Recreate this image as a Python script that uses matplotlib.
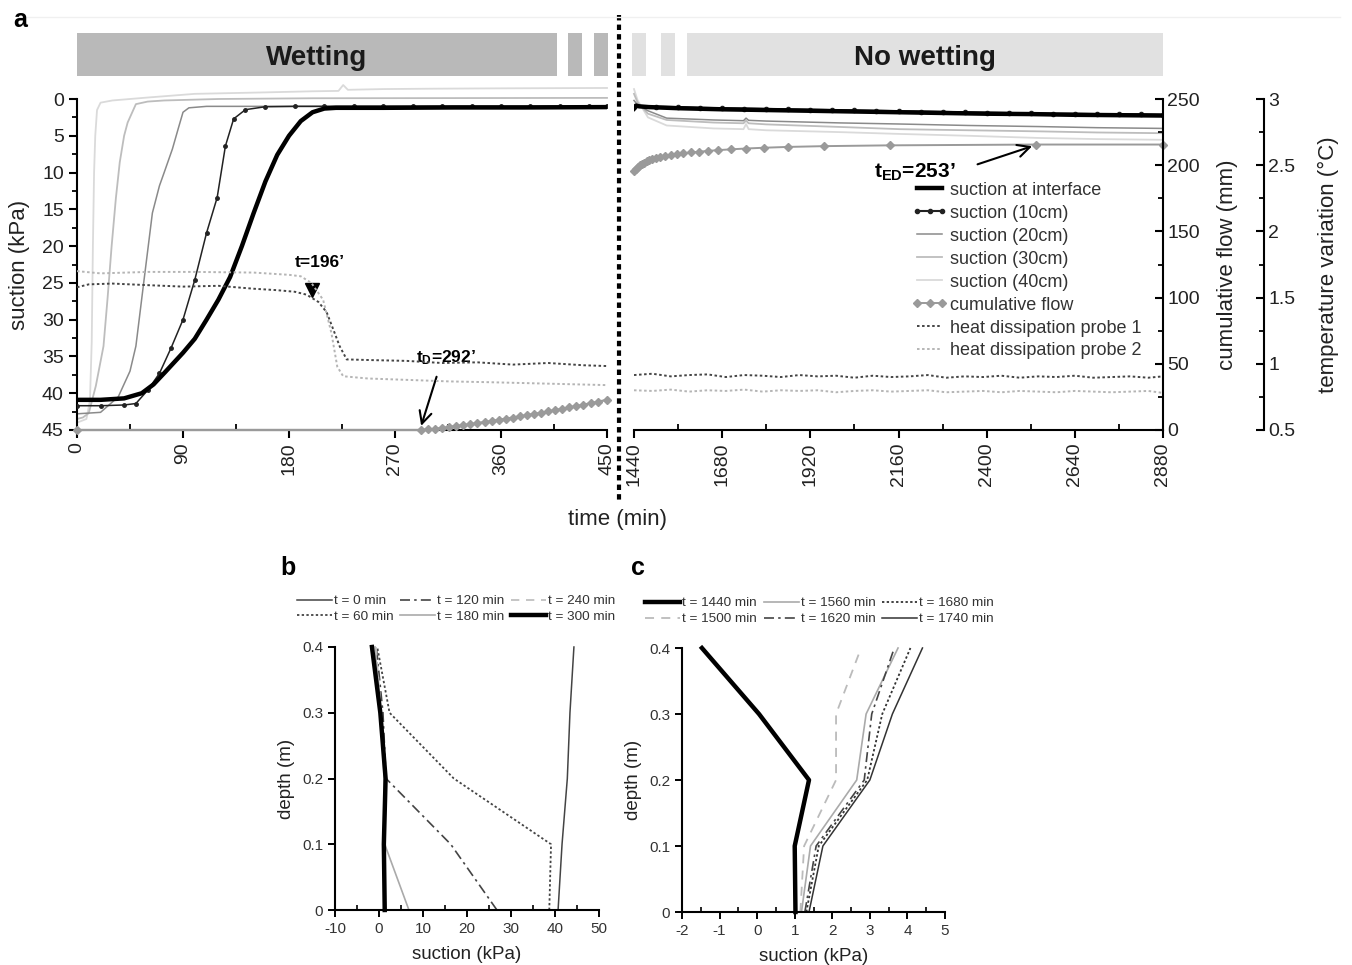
import matplotlib
matplotlib.use('Agg')
import matplotlib.pyplot as plt
from matplotlib import font_manager
from matplotlib.ticker import MultipleLocator
from matplotlib.transforms import blended_transform_factory
from matplotlib.patches import Rectangle
from matplotlib.lines import Line2D

_names = {f.name for f in font_manager.fontManager.ttflist}
NARROW = 'Liberation Sans Narrow' if 'Liberation Sans Narrow' in _names else 'Liberation Sans'

plt.rcParams['font.family'] = ['Liberation Sans', 'DejaVu Sans']
plt.rcParams['axes.unicode_minus'] = False
plt.rcParams['mathtext.fontset'] = 'custom'
plt.rcParams['mathtext.rm'] = NARROW
plt.rcParams['mathtext.bf'] = NARROW + ':bold'
plt.rcParams['mathtext.it'] = NARROW + ':italic'

# ---------------- data: panel a, wetting phase (0-450 min) ----------------
t_int_L = [0, 20, 40, 55, 65, 75, 90, 100, 110, 120, 130, 140, 150, 160, 170, 180, 190, 200, 210, 220, 260, 320, 380, 450]
s_int_L = [40.9, 40.9, 40.7, 40.0, 38.8, 37.1, 34.5, 32.6, 30.0, 27.3, 24.2, 20.0, 15.5, 11.2, 7.6, 5.0, 3.0, 1.8, 1.3, 1.2, 1.2, 1.15, 1.15, 1.1]

t_10_L = [0, 20, 40, 50, 60, 70, 80, 90, 100, 110, 119, 126, 133, 143, 160, 185, 210, 235, 260, 285, 310, 335, 360, 385, 410, 435, 450]
s_10_L = [41.7, 41.7, 41.6, 41.4, 39.6, 37.3, 33.8, 30.0, 24.6, 18.2, 13.4, 6.4, 2.7, 1.45, 1.05, 1.0, 1.0, 1.0, 1.0, 1.0, 1.0, 1.0, 1.0, 1.0, 1.0, 1.0, 1.0]

t_20_L = [0, 20, 35, 45, 50, 57, 64, 70, 74, 81, 86, 90, 95, 110, 200, 300, 450]
s_20_L = [42.8, 42.6, 40.5, 37.0, 33.6, 24.5, 15.5, 11.8, 10.0, 6.8, 4.0, 1.8, 1.2, 1.0, 1.0, 1.0, 1.0]

t_30_L = [0, 5, 10, 16, 22.5, 26, 29.4, 33, 36.3, 40, 43, 50, 60, 74, 120, 200, 300, 450]
s_30_L = [43.5, 43.3, 42.7, 39.0, 33.6, 27.0, 20.0, 13.5, 8.6, 5.0, 3.2, 0.7, 0.35, 0.2, 0.0, -0.1, -0.12, -0.15]

t_40_L = [0, 8, 11, 12.5, 13.5, 14.5, 15.5, 17, 20, 30, 60, 100, 160, 200, 222, 226, 230, 260, 300, 360, 450]
s_40_L = [44.0, 43.5, 41.0, 33.0, 20.0, 10.0, 5.0, 1.5, 0.5, 0.2, -0.2, -0.7, -0.9, -1.05, -1.1, -1.9, -1.25, -1.35, -1.4, -1.45, -1.5]

t_flow_L = [0, 292, 298, 304, 310, 316, 322, 328, 334, 340, 346, 352, 358, 364, 370, 376, 382, 388, 394, 400, 406, 412, 418, 424, 430, 436, 442, 450]
flow_L = [0, 0, 0.4, 0.9, 1.5, 2.2, 3.0, 3.7, 4.4, 5.2, 6.0, 6.8, 7.6, 8.5, 9.4, 10.3, 11.2, 12.1, 13.0, 14.0, 15.0, 16.0, 17.0, 18.0, 19.1, 20.2, 21.3, 22.8]

t_p1_L = [0, 10, 30, 60, 90, 120, 150, 170, 185, 195, 205, 212, 218, 223, 229, 250, 280, 310, 340, 370, 400, 430, 450]
p1_L = [1.578, 1.600, 1.606, 1.594, 1.583, 1.589, 1.567, 1.556, 1.544, 1.522, 1.467, 1.389, 1.250, 1.133, 1.033, 1.028, 1.022, 1.006, 1.011, 0.994, 1.006, 0.989, 0.983]

t_p2_L = [0, 20, 60, 100, 150, 180, 190, 199, 209, 216, 221, 226, 247, 282, 316, 350, 400, 450]
p2_L = [1.700, 1.683, 1.694, 1.694, 1.689, 1.672, 1.661, 1.611, 1.483, 1.233, 0.978, 0.906, 0.889, 0.878, 0.867, 0.861, 0.850, 0.839]

# ---------------- data: panel a, no-wetting phase (1440-2880 min) ----------------
t_int_R = [1440, 1445, 1455, 1480, 1560, 1680, 1800, 1920, 2040, 2160, 2280, 2400, 2520, 2640, 2760, 2880]
s_int_R = [1.3, 0.9, 1.0, 1.1, 1.25, 1.4, 1.5, 1.6, 1.7, 1.8, 1.9, 2.0, 2.05, 2.15, 2.2, 2.25]

t_10_R = [1440, 1500, 1560, 1620, 1680, 1740, 1800, 1860, 1920, 1980, 2040, 2100, 2160, 2220, 2280, 2340, 2400, 2460, 2520, 2580, 2640, 2700, 2760, 2820, 2880]
s_10_R = [1.1, 1.05, 1.1, 1.2, 1.25, 1.3, 1.35, 1.4, 1.45, 1.5, 1.55, 1.6, 1.65, 1.7, 1.75, 1.8, 1.85, 1.9, 1.95, 2.0, 2.0, 2.05, 2.1, 2.1, 2.15]

t_20_R = [1440, 1450, 1478, 1529, 1656, 1738, 1745, 1752, 1800, 2000, 2163, 2350, 2544, 2700, 2880]
s_20_R = [0.2, 0.8, 1.6, 2.6, 2.85, 2.95, 2.6, 2.9, 3.0, 3.25, 3.4, 3.6, 3.75, 3.9, 4.0]

t_30_R = [1440, 1450, 1478, 1529, 1656, 1738, 1745, 1752, 1800, 2000, 2163, 2350, 2544, 2700, 2880]
s_30_R = [-0.7, 0.5, 2.0, 2.85, 3.2, 3.3, 2.95, 3.3, 3.45, 3.8, 4.1, 4.25, 4.4, 4.55, 4.65]

t_40_R = [1440, 1450, 1478, 1529, 1656, 1738, 1745, 1752, 1800, 2000, 2163, 2350, 2544, 2700, 2880]
s_40_R = [-1.35, 0.2, 2.5, 3.6, 4.0, 4.1, 3.4, 4.1, 4.25, 4.5, 4.75, 5.0, 5.3, 5.45, 5.55]

t_flow_R = [1440, 1445, 1450, 1456, 1462, 1468, 1475, 1482, 1490, 1500, 1512, 1525, 1540, 1556, 1574, 1594, 1617, 1642, 1670, 1705, 1745, 1795, 1858, 1958, 2138, 2535, 2880]
flow_R = [195.5, 197, 198.5, 200, 201, 202, 203, 204, 204.8, 205.5, 206.3, 207, 207.6, 208.3, 209, 209.6, 210.2, 210.8, 211.4, 212, 212.6, 213.2, 213.8, 214.4, 215, 215.6, 215.6]

t_p_R = [1440, 1490, 1540, 1590, 1640, 1690, 1740, 1790, 1840, 1890, 1940, 1990, 2040, 2090, 2140, 2190, 2240, 2290, 2340, 2390, 2440, 2490, 2540, 2590, 2640, 2690, 2740, 2790, 2840, 2880]
p1_R = [0.915, 0.925, 0.905, 0.915, 0.92, 0.9, 0.915, 0.91, 0.9, 0.915, 0.905, 0.91, 0.895, 0.91, 0.9, 0.905, 0.915, 0.895, 0.905, 0.9, 0.91, 0.895, 0.905, 0.9, 0.91, 0.895, 0.9, 0.905, 0.895, 0.905]
p2_R = [0.8, 0.795, 0.805, 0.79, 0.8, 0.795, 0.805, 0.79, 0.8, 0.795, 0.8, 0.785, 0.795, 0.8, 0.79, 0.795, 0.8, 0.785, 0.79, 0.795, 0.785, 0.795, 0.79, 0.785, 0.795, 0.79, 0.785, 0.79, 0.795, 0.78]

# ---------------- data: panels b and c (profiles) ----------------
depth = [0, 0.1, 0.2, 0.3, 0.4]
b_labels = ['t = 0 min', 't = 60 min', 't = 120 min', 't = 180 min', 't = 240 min', 't = 300 min']
b_t0 = [40.7, 41.6, 42.8, 43.4, 44.3]
b_t60 = [38.7, 39.1, 17.0, 2.4, -0.4]
b_t120 = [26.8, 16.3, 1.6, 0.9, -0.6]
b_t180 = [6.8, 1.3, 1.2, 0.4, -0.9]
b_t240 = [1.5, 1.1, 1.4, 0.5, -0.7]
b_t300 = [1.3, 1.1, 1.5, 0.3, -1.6]

c_labels = ['t = 1440 min', 't = 1500 min', 't = 1560 min', 't = 1620 min', 't = 1680 min', 't = 1740 min']
c_t1440 = [1.02, 1.0, 1.38, 0.05, -1.47]
c_t1500 = [1.15, 1.25, 2.1, 2.1, 2.7]
c_t1560 = [1.18, 1.42, 2.65, 2.9, 3.75]
c_t1620 = [1.27, 1.57, 2.85, 3.05, 3.65]
c_t1680 = [1.31, 1.64, 2.93, 3.33, 4.08]
c_t1740 = [1.38, 1.75, 3.0, 3.6, 4.4]
depth_1500 = [0, 0.1, 0.2, 0.3, 0.39]

legend_a = ['suction at interface', 'suction (10cm)', 'suction (20cm)', 'suction (30cm)',
            'suction (40cm)', 'cumulative flow', 'heat dissipation probe 1', 'heat dissipation probe 2']

# ---------------- figure ----------------
W, H = 1352, 965
fig = plt.figure(figsize=(W / 100, H / 100), dpi=100)


def fx(px):
    return px / W


def fy(py):
    return 1 - py / H


TC = '#222222'
SPW = 1.5

axL = fig.add_axes([fx(77), fy(430), fx(607) - fx(77), fy(99) - fy(430)])
axR = fig.add_axes([fx(634), fy(430), fx(1163) - fx(634), fy(99) - fy(430)])

for ax in (axL, axR):
    ax.set_ylim(45, 0)
    ax.spines['top'].set_visible(False)
    ax.spines['right'].set_visible(False)
    ax.spines['bottom'].set_linewidth(SPW)
    ax.spines['left'].set_linewidth(SPW)
    ax.tick_params(axis='x', which='major', direction='out', length=6, width=1.5,
                   labelsize=14, labelcolor=TC, labelrotation=90, pad=3)
    ax.tick_params(axis='x', which='minor', direction='in', length=4, width=1.3)
    ax.patch.set_alpha(0)

axL.set_xlim(0, 450)
axL.xaxis.set_major_locator(MultipleLocator(90))
axL.xaxis.set_minor_locator(MultipleLocator(45))
axL.yaxis.set_major_locator(MultipleLocator(5))
axL.yaxis.set_minor_locator(MultipleLocator(2.5))
axL.tick_params(axis='y', which='major', direction='out', length=6, width=1.5, labelsize=14, labelcolor=TC)
axL.tick_params(axis='y', which='minor', direction='out', length=3.5, width=1.3)
axL.set_ylabel('suction (kPa)', fontsize=16, color=TC)
axL.yaxis.set_label_coords(-0.088, 0.5)

axR.set_xlim(1440, 2880)
axR.xaxis.set_major_locator(MultipleLocator(240))
axR.xaxis.set_minor_locator(MultipleLocator(120))
axR.spines['left'].set_visible(False)
axR.set_yticks([])

# twin axes
axLf = axL.twinx()
axLf.set_ylim(0, 250)
axLf.axis('off')
axLt = axL.twinx()
axLt.set_ylim(0.5, 3)
axLt.axis('off')

axRf = axR.twinx()
axRf.set_ylim(0, 250)
axRt = axR.twinx()
axRt.set_ylim(0.5, 3)
for ax in (axRf, axRt):
    for s in ('top', 'left', 'bottom'):
        ax.spines[s].set_visible(False)
    ax.spines['right'].set_linewidth(SPW)
    ax.tick_params(axis='y', which='major', direction='in', length=6, width=1.5, labelsize=14, labelcolor=TC, pad=3)
    ax.tick_params(axis='y', which='minor', direction='in', length=3.5, width=1.3)
axRf.yaxis.set_major_locator(MultipleLocator(50))
axRf.yaxis.set_minor_locator(MultipleLocator(25))
axRt.yaxis.set_major_locator(MultipleLocator(0.5))
axRt.yaxis.set_minor_locator(MultipleLocator(0.25))
axRt.spines['right'].set_position(('outward', 101 * 0.72))
axRt.set_yticks([0.5, 1, 1.5, 2, 2.5, 3])
axRt.set_yticklabels(['0.5', '1', '1.5', '2', '2.5', '3'])
axRf.set_ylabel('cumulative flow (mm)', fontsize=16, color=TC)
axRt.set_ylabel('temperature variation (°C)', fontsize=16, color=TC)
axRf.yaxis.set_label_coords(1.102, 0.5)
axRt.yaxis.set_label_coords(1.292, 0.5)

# ---- lines: wetting phase ----
C40, C30, C20 = '#dadada', '#bdbdbd', '#8a8a8a'
DOT = (0, (1.3, 1.3))
axL.plot(t_40_L, s_40_L, color=C40, lw=1.3, clip_on=False, zorder=2)
axL.plot(t_30_L, s_30_L, color=C30, lw=1.3, clip_on=False, zorder=2)
axL.plot(t_20_L, s_20_L, color=C20, lw=1.1, clip_on=False, zorder=2)
axL.plot(t_10_L, s_10_L, color='#222222', lw=1.1, marker='o', ms=2.5, zorder=3)
axL.plot(t_int_L, s_int_L, color='black', lw=3.2, zorder=4)
axLt.plot(t_p1_L, p1_L, color='#444444', lw=1.4, ls=DOT)
axLt.plot(t_p2_L, p2_L, color='#b5b5b5', lw=1.4, ls=DOT)
axLf.plot(t_flow_L, flow_L, color='#9a9a9a', lw=1.6, marker='D', ms=4.5, clip_on=False)

# ---- lines: no-wetting phase ----
h40, = axR.plot(t_40_R, s_40_R, color=C40, lw=1.3, clip_on=False, zorder=2)
h30, = axR.plot(t_30_R, s_30_R, color=C30, lw=1.3, clip_on=False, zorder=2)
h20, = axR.plot(t_20_R, s_20_R, color=C20, lw=1.1, clip_on=False, zorder=2)
h10, = axR.plot(t_10_R, s_10_R, color='#222222', lw=1.5, marker='o', ms=3, zorder=3)
hint, = axR.plot(t_int_R, s_int_R, color='black', lw=3.2, zorder=4)
hp1, = axRt.plot(t_p_R, p1_R, color='#444444', lw=1.4, ls=DOT)
hp2, = axRt.plot(t_p_R, p2_R, color='#b5b5b5', lw=1.4, ls=DOT)
hfl, = axRf.plot(t_flow_R, flow_R, color='#9a9a9a', lw=1.4, marker='D', ms=4.5, clip_on=False)

leg = axRt.legend([hint, h10, h20, h30, h40, hfl, hp1, hp2], legend_a, loc='upper left',
                  bbox_to_anchor=(0.525, 0.75), frameon=False, fontsize=13, numpoints=3,
                  handlelength=2.0, handletextpad=0.1, labelspacing=0.33, borderpad=0, borderaxespad=0)
for t in leg.get_texts():
    t.set_color('#333333')

# ---- annotations ----
ann_font = dict(family=[NARROW, 'Liberation Sans'], fontweight='bold', fontsize=12.5, color='black')
axL.plot([199.5], [26.0], marker='v', color='black', ms=10, zorder=6)
axL.text(206, 22.2, "t=196’", ha='center', va='center', **ann_font)
axL.annotate('', xy=(291.5, 44.8), xytext=(306, 37.4),
             arrowprops=dict(arrowstyle='->', lw=1.5, color='black', mutation_scale=22))
axL.text(313, 35.2, r"$\mathbf{t_{D}}$=292’", ha='center', va='center', **ann_font)
axRf.annotate('', xy=(2531, 215.0), xytext=(2368, 200.0),
              arrowprops=dict(arrowstyle='->', lw=1.5, color='black', mutation_scale=22))
axRf.text(2205, 194.5, r"$\mathbf{t_{ED}}$=253’", ha='center', va='center',
          family=[NARROW, 'Liberation Sans'], fontweight='bold', fontsize=15)

# ---- wetting / no wetting bands ----
trL = blended_transform_factory(axL.transData, fig.transFigure)
trR = blended_transform_factory(axR.transData, fig.transFigure)
wet_bands = [(0, 407.5), (416.5, 428.5), (438.7, 450.5)]
dry_bands = [(1434.6, 1472.7), (1513.5, 1551.6), (1584, 2880)]
yb0, yb1 = fy(76), fy(33)
for a, b in wet_bands:
    axL.add_patch(Rectangle((a, yb0), b - a, yb1 - yb0, transform=trL, facecolor='#b9b9b9',
                            edgecolor='none', clip_on=False))
for a, b in dry_bands:
    axR.add_patch(Rectangle((a, yb0), b - a, yb1 - yb0, transform=trR, facecolor='#e1e1e1',
                            edgecolor='none', clip_on=False))
band_font = dict(family=[NARROW, 'Liberation Sans'], fontweight='bold', fontsize=20, color='#1a1a1a')
axL.text(203.75, (yb0 + yb1) / 2 - 0.004, 'Wetting', transform=trL, ha='center', va='center', **band_font)
axR.text(2232, (yb0 + yb1) / 2 - 0.004, 'No wetting', transform=trR, ha='center', va='center', **band_font)

fig.add_artist(Line2D([fx(619), fx(619)], [fy(15), fy(500)], transform=fig.transFigure,
                      color='black', lw=3, linestyle=(0, (1.3, 1.0))))
fig.add_artist(Line2D([fx(18), fx(1340)], [fy(17), fy(17)], transform=fig.transFigure,
                      color='#f0f0f0', lw=1))
fig.text(fx(617), fy(519), 'time (min)', ha='center', va='center', fontsize=16, color=TC)
fig.text(fx(20), fy(20), 'a', ha='center', va='center', fontsize=18, fontweight='bold')
fig.text(fx(288), fy(568), 'b', ha='center', va='center', fontsize=18, fontweight='bold')
fig.text(fx(638), fy(568), 'c', ha='center', va='center', fontsize=18, fontweight='bold')

# ---------------- panels b and c ----------------
axB = fig.add_axes([fx(335), fy(910), fx(599) - fx(335), fy(647) - fy(910)])
axC = fig.add_axes([fx(682), fy(912), fx(945) - fx(682), fy(648) - fy(912)])

DASHDOT = (0, (6, 2.5, 1.5, 2.5))
DASH = (0, (5, 4))
for ax in (axB, axC):
    ax.spines['top'].set_visible(False)
    ax.spines['right'].set_visible(False)
    ax.spines['bottom'].set_linewidth(SPW)
    ax.spines['left'].set_linewidth(SPW)
    ax.set_ylim(0, 0.4)
    ax.set_yticks([0, 0.1, 0.2, 0.3, 0.4])
    ax.set_yticklabels(['0', '0.1', '0.2', '0.3', '0.4'])
    ax.tick_params(axis='both', which='major', direction='out', length=5, width=1.4,
                   labelsize=11, labelcolor='#333333')
    ax.tick_params(axis='x', which='minor', direction='in', length=3.5, width=1.2)
    ax.set_ylabel('depth (m)', fontsize=13.5, color=TC, labelpad=5)
    ax.set_xlabel('suction (kPa)', fontsize=13.5, color=TC, labelpad=7)

axB.set_xlim(-10, 50)
axB.xaxis.set_major_locator(MultipleLocator(10))
axB.xaxis.set_minor_locator(MultipleLocator(5))
axC.set_xlim(-2, 5)
axC.xaxis.set_major_locator(MultipleLocator(1))
axC.xaxis.set_minor_locator(MultipleLocator(0.5))

hb = [
    axB.plot(b_t0, depth, color='#444444', lw=1.1, clip_on=False)[0],
    axB.plot(b_t60, depth, color='#444444', lw=1.3, ls=DOT, clip_on=False)[0],
    axB.plot(b_t120, depth, color='#444444', lw=1.2, ls=DASHDOT, clip_on=False)[0],
    axB.plot(b_t180, depth, color='#aaaaaa', lw=1.2, clip_on=False)[0],
    axB.plot(b_t240, depth, color='#bbbbbb', lw=1.2, ls=DASH, clip_on=False)[0],
    axB.plot(b_t300, depth, color='black', lw=3.2, clip_on=False)[0],
]
hc = [
    axC.plot(c_t1440, depth, color='black', lw=3.2, clip_on=False)[0],
    axC.plot(c_t1500, depth_1500, color='#bbbbbb', lw=1.3, ls=DASH, clip_on=False)[0],
    axC.plot(c_t1560, depth, color='#aaaaaa', lw=1.2, clip_on=False)[0],
    axC.plot(c_t1620, depth, color='#444444', lw=1.2, ls=DASHDOT, clip_on=False)[0],
    axC.plot(c_t1680, depth, color='#333333', lw=1.3, ls=DOT, clip_on=False)[0],
    axC.plot(c_t1740, depth, color='#333333', lw=1.1, clip_on=False)[0],
]
legB = axB.legend(hb, b_labels, ncol=3, loc='upper left', bbox_to_anchor=(-0.145, 1.198),
                  frameon=False, fontsize=9.7, handlelength=2.6, handletextpad=0.15,
                  columnspacing=0.5, labelspacing=0.25, borderpad=0, borderaxespad=0)
legC = axC.legend(hc, c_labels, ncol=3, loc='upper left', bbox_to_anchor=(-0.14, 1.193),
                  frameon=False, fontsize=9.7, handlelength=2.6, handletextpad=0.15,
                  columnspacing=0.5, labelspacing=0.25, borderpad=0, borderaxespad=0)
for lg in (legB, legC):
    for t in lg.get_texts():
        t.set_color('#333333')

fig.savefig('out.png', dpi=100)
